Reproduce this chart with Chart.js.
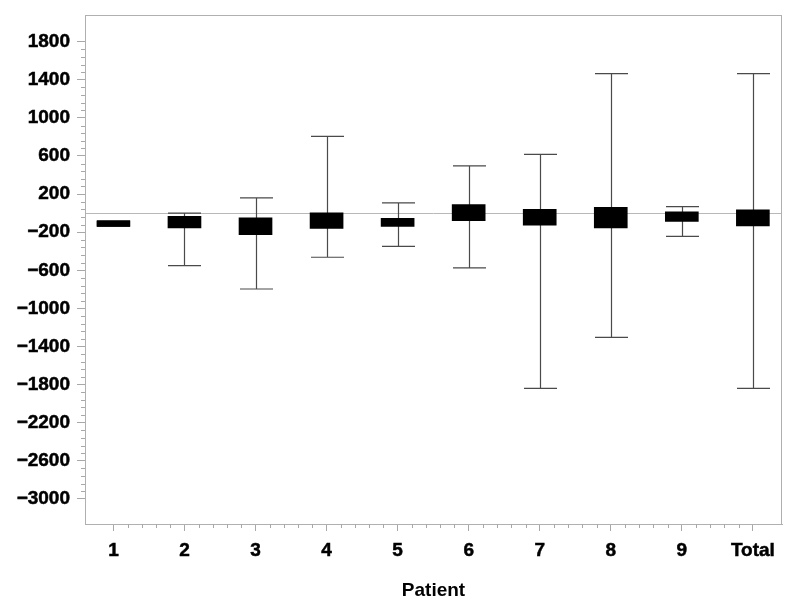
<!DOCTYPE html>
<html>
<head>
<meta charset="utf-8">
<script src="https://cdn.jsdelivr.net/npm/chart.js@4.4.1/dist/chart.umd.min.js"></script>
<style>
  html, body { margin: 0; padding: 0; background: #fff; }
  #wrap { width: 800px; height: 610px; }
</style>
</head>
<body>
<div id="wrap"><canvas id="c" width="800" height="610"></canvas></div>
<script>
// ---- data ----
const patients    = ['1', '2', '3', '4', '5', '6', '7', '8', '9', 'Total'];
const whiskerHigh = [-80, 0, 161, 805, 108, 497, 616, 1464, 69, 1464];
const boxHigh     = [-80, -33, -49, 3, -54, 90, 41, 62, 14, 35];
const boxLow      = [-140, -154, -225, -159, -138, -78, -127, -154, -88, -133];
const whiskerLow  = [-140, -551, -796, -463, -348, -575, -1840, -1304, -243, -1840];
const yTickValues = [1800, 1400, 1000, 600, 200, -200, -600, -1000, -1400, -1800, -2200, -2600, -3000];

const FONT = { family: "'Liberation Sans', Arial, Helvetica, sans-serif", size: 19, weight: 'bold' };
const BOX_W = 33;

const boxData = patients.map((p, i) => ({ x: i + 1, y: [boxLow[i], boxHigh[i]] }));

const decorPlugin = {
  id: 'decor',
  beforeDatasetsDraw(chart) {
    const { ctx, chartArea: a, scales: { x, y } } = chart;
    ctx.save();
    // zero reference line
    const y0 = Math.round(y.getPixelForValue(0)) + 0.5;
    ctx.strokeStyle = '#b8b8b8';
    ctx.lineWidth = 1;
    ctx.beginPath();
    ctx.moveTo(a.left, y0);
    ctx.lineTo(a.right, y0);
    ctx.stroke();
    // whiskers
    ctx.strokeStyle = '#4a4a4a';
    ctx.lineWidth = 1.2;
    patients.forEach((p, i) => {
      const px = Math.round(x.getPixelForValue(i + 1)) + 0.5;
      const yh = y.getPixelForValue(whiskerHigh[i]);
      const yl = y.getPixelForValue(whiskerLow[i]);
      ctx.beginPath();
      ctx.moveTo(px, yh); ctx.lineTo(px, yl);
      ctx.moveTo(px - BOX_W / 2, yh); ctx.lineTo(px + BOX_W / 2, yh);
      ctx.moveTo(px - BOX_W / 2, yl); ctx.lineTo(px + BOX_W / 2, yl);
      ctx.stroke();
    });
    ctx.restore();
  },
  afterDraw(chart) {
    const { ctx, chartArea: a, scales: { x, y } } = chart;
    ctx.save();
    ctx.strokeStyle = '#b0b0b0';
    ctx.lineWidth = 1;
    ctx.strokeRect(Math.round(a.left) + 0.5, Math.round(a.top) + 0.5,
                   Math.round(a.right - a.left) - 1, Math.round(a.bottom - a.top));
    // minor ticks
    ctx.strokeStyle = '#a8a8a8';
    ctx.beginPath();
    for (let k = 1; k < 60; k++) {
      if (k % 5 === 0) continue;
      const v = yTickValues[yTickValues.length - 1] + k * 80;
      if (v > yTickValues[0]) break;
      const py = Math.round(y.getPixelForValue(v)) + 0.5;
      ctx.moveTo(a.left - 4, py); ctx.lineTo(a.left, py);
    }
    for (let k = 1; k < (patients.length - 1) * 5; k++) {
      if (k % 5 === 0) continue;
      const px = Math.round(x.getPixelForValue(1 + k * 0.2)) + 0.5;
      ctx.moveTo(px, a.bottom); ctx.lineTo(px, a.bottom + 4);
    }
    ctx.stroke();
    ctx.restore();
  }
};

new Chart(document.getElementById('c'), {
  type: 'bar',
  data: {
    datasets: [{
      data: boxData,
      backgroundColor: '#000',
      borderWidth: 0,
      barThickness: BOX_W,
      grouped: false
    }]
  },
  options: {
    responsive: false,
    animation: false,
    devicePixelRatio: 1,
    layout: { padding: { top: 15, right: 18, left: 0, bottom: 0 } },
    plugins: { legend: { display: false }, tooltip: { enabled: false } },
    scales: {
      x: {
        type: 'linear',
        offset: false,
        min: 0.6, max: 10.41,
        afterBuildTicks(scale) { scale.ticks = patients.map((p, i) => ({ value: i + 1 })); },
        afterFit(scale) { scale.height = 86; scale.paddingLeft = 0; scale.paddingRight = 0; },
        ticks: {
          color: '#000', font: FONT, padding: 8, maxRotation: 0, autoSkip: false,
          textStrokeColor: '#000', textStrokeWidth: 0.5,
          callback: (v) => patients[Math.round(v) - 1]
        },
        grid: { offset: false, drawOnChartArea: false, drawTicks: true, tickLength: 7, tickColor: '#a8a8a8' },
        border: { display: true, color: '#b0b0b0' },
        title: { display: true, text: 'Patient', color: '#000', font: FONT, padding: { top: 0, bottom: 8 } }
      },
      y: {
        type: 'linear',
        min: -3263, max: 2080,
        afterBuildTicks(scale) { scale.ticks = yTickValues.map(v => ({ value: v })); },
        afterFit(scale) { scale.width = 85; scale.paddingTop = 0; scale.paddingBottom = 0; },
        ticks: {
          color: '#000', font: FONT, padding: 7,
          textStrokeColor: '#000', textStrokeWidth: 0.5,
          callback: (v) => v < 0 ? '\u2212' + Math.abs(v) : String(v)
        },
        grid: { drawOnChartArea: false, drawTicks: true, tickLength: 8, tickColor: '#a8a8a8' },
        border: { display: true, color: '#b0b0b0' }
      }
    }
  },
  plugins: [decorPlugin]
});
</script>
</body>
</html>
